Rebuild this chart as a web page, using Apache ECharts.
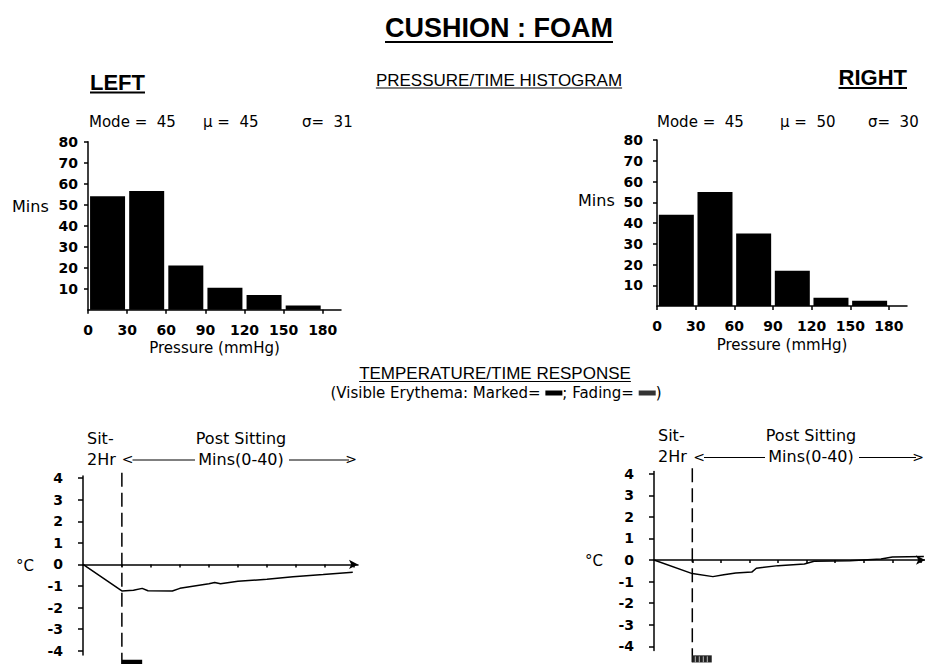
<!DOCTYPE html>
<html>
<head>
<meta charset="utf-8">
<title>Cushion : Foam</title>
<script src="https://cdn.jsdelivr.net/npm/echarts@6/dist/echarts.min.js"></script>
<style>
  html, body { margin: 0; padding: 0; background: #fff; }
  #chart { width: 925px; height: 664px; }
</style>
</head>
<body>
<div id="chart"></div>
<script>
// pressure/time histogram: bin centres (mmHg) and minutes in each bin
const pressureBins = [15, 45, 75, 105, 135, 165]
const leftMins = [54, 56.5, 21, 10.5, 7, 2]
const rightMins = [44, 55, 35, 17, 4, 2.5]
const pressureTicks = [0, 30, 60, 90, 120, 150, 180]
const minsTicks = [10, 20, 30, 40, 50, 60, 70, 80]
const leftStats = ['Mode =  45', 'μ =  45', 'σ=  31']
const rightStats = ['Mode =  45', 'μ =  50', 'σ=  30']

// temperature/time response: [minutes (negative = sitting), °C]
const leftTemp = [
  [-6.7, 0], [0, -1.23], [2, -1.2], [3.5, -1.11], [4.5, -1.22], [8.7, -1.23],
  [10, -1.11], [15, -0.9], [16, -0.84], [17, -0.9], [20, -0.78], [25, -0.69],
  [29.5, -0.57], [34.7, -0.47], [39.8, -0.36]
]
const rightTemp = [
  [-6.7, 0], [0, -0.63], [3.6, -0.77], [5.5, -0.68], [7.6, -0.6], [10.4, -0.56],
  [11.2, -0.38], [15, -0.26], [19.6, -0.18], [21.3, -0.06], [27.6, -0.03],
  [33, 0.05], [35, 0.14], [40.5, 0.16]
]
const timeTicks = [0, 5, 10, 15, 20, 25, 30, 35, 40]
const tempTicks = [-4, -3, -2, -1, 0, 1, 2, 3, 4]

// visible erythema periods, [start, end] post sitting minutes
const leftMarked = [[0, 3.5]]
const rightFading = [[0, 3.4]]

const chart = echarts.init(document.getElementById('chart'), null, { renderer: 'svg' })

const BLACK = '#000'
const SANS = 'DejaVu Sans'
const HEAD = 'Liberation Sans'
const axisLineStyle = { color: BLACK, width: 1.5 }
const numberStyle = { color: BLACK, fontSize: 14, fontWeight: 'bold', fontFamily: SANS }

const measureCtx = document.createElement('canvas').getContext('2d')
function textWidth(text, size, family, weight) {
  measureCtx.font = (weight || 'normal') + ' ' + size + 'px "' + family + '"'
  return measureCtx.measureText(text).width
}

function label(text, x, y, size, align, family, weight) {
  return {
    type: 'text', x: x, y: y, silent: true,
    style: {
      text: text, fill: BLACK, fontSize: size, fontFamily: family || SANS,
      fontWeight: weight || 'normal', textAlign: align || 'left', textVerticalAlign: 'middle'
    }
  }
}

function hline(x1, x2, y, width) {
  return {
    type: 'line', silent: true,
    shape: { x1: x1, y1: y, x2: x2, y2: y },
    style: { stroke: BLACK, lineWidth: width || 1.2 }
  }
}

// underlined heading, like the typed captions of the original sheet
function heading(text, x, y, size, weight, align, lineY) {
  const w = textWidth(text, size, HEAD, weight)
  let x1 = x
  if (align === 'center') x1 = x - w / 2
  if (align === 'right') x1 = x - w
  return [
    label(text, x, y, size, align, HEAD, weight),
    hline(x1, x1 + w, lineY, weight === 'bold' ? 2 : 1.2)
  ]
}

function histXAxis(gridIndex) {
  return {
    gridIndex: gridIndex, type: 'value', min: 0, max: 194,
    name: 'Pressure (mmHg)', nameLocation: 'middle', nameGap: 31,
    nameTextStyle: { color: BLACK, fontSize: 15, fontFamily: SANS },
    axisLine: { onZero: false, lineStyle: axisLineStyle },
    axisTick: { customValues: pressureTicks, length: 4, lineStyle: axisLineStyle },
    axisLabel: Object.assign({ customValues: pressureTicks, margin: 13 }, numberStyle),
    splitLine: { show: false }
  }
}

function histYAxis(gridIndex, margin) {
  return {
    gridIndex: gridIndex, type: 'value', min: 0, max: 80, interval: 10,
    axisLine: { show: true, onZero: false, lineStyle: axisLineStyle },
    axisTick: { show: true, customValues: minsTicks, length: 4, lineStyle: axisLineStyle },
    axisLabel: Object.assign({ customValues: minsTicks, margin: margin }, numberStyle),
    splitLine: { show: false }
  }
}

function tempXAxis(gridIndex) {
  return {
    gridIndex: gridIndex, type: 'value', min: -6.7, max: 40.7,
    axisLine: { onZero: true, symbol: ['none', 'arrow'], symbolSize: [7, 9], lineStyle: axisLineStyle },
    axisTick: { customValues: timeTicks, length: 3, lineStyle: axisLineStyle },
    axisLabel: { show: false },
    splitLine: { show: false }
  }
}

function tempYAxis(gridIndex) {
  return {
    gridIndex: gridIndex, type: 'value', min: -4.2, max: 4.1,
    axisLine: { show: true, onZero: false, lineStyle: axisLineStyle },
    axisTick: { show: true, customValues: tempTicks, length: 5, lineStyle: axisLineStyle },
    axisLabel: Object.assign({ customValues: tempTicks, margin: 20 }, numberStyle),
    splitLine: { show: false }
  }
}

function barSeries(axisIndex, mins) {
  return {
    type: 'bar', xAxisIndex: axisIndex, yAxisIndex: axisIndex,
    data: pressureBins.map((p, i) => [p, mins[i]]),
    barWidth: 35, itemStyle: { color: BLACK }, silent: true
  }
}

function tempSeries(axisIndex, data) {
  return {
    type: 'line', xAxisIndex: axisIndex, yAxisIndex: axisIndex, data: data,
    symbol: 'none', lineStyle: { color: BLACK, width: 1.5 }, silent: true
  }
}

// dashed line at the end of sitting, running past the bottom of the axis
function dashedSeries(axisIndex) {
  return {
    type: 'custom', xAxisIndex: axisIndex, yAxisIndex: axisIndex, data: [[0]], encode: { x: 0 }, silent: true,
    renderItem(params, api) {
      const top = api.coord([api.value(0), 4.25])
      const bottom = api.coord([api.value(0), -5])
      return {
        type: 'line',
        shape: { x1: top[0], y1: top[1], x2: bottom[0], y2: bottom[1] },
        style: { stroke: BLACK, lineWidth: 1.5, lineDash: [14, 6] }
      }
    }
  }
}

// erythema block drawn under the time axis
function erythemaSeries(axisIndex, data, fading) {
  return {
    type: 'custom', xAxisIndex: axisIndex, yAxisIndex: axisIndex, data: data, encode: { x: [0, 1] }, silent: true,
    renderItem(params, api) {
      const a = api.coord([api.value(0), -4.42])
      const b = api.coord([api.value(1), -4.75])
      const w = b[0] - a[0]
      const h = b[1] - a[1]
      const children = [{ type: 'rect', shape: { x: a[0], y: a[1], width: w, height: h }, style: { fill: fading ? '#222' : BLACK } }]
      if (fading) {
        for (let x = a[0] + 3; x < b[0] - 1; x += 4) {
          children.push({ type: 'line', shape: { x1: x, y1: a[1] + 1, x2: x, y2: b[1] }, style: { stroke: '#bbb', lineWidth: 1 } })
        }
      }
      return { type: 'group', children: children }
    }
  }
}

function sitLabels(axisX, dashX, endX, y1, y2, postX) {
  return [
    label('Sit-', axisX + 4, y1, 16),
    label('2Hr', axisX + 4, y2, 16),
    label('Post Sitting', postX, y1, 16, 'center'),
    label('<', dashX + 6, y2, 14, 'center'),
    hline(dashX + 11, postX - 46, y2 + 1, 1),
    label('Mins(0-40)', postX, y2, 16, 'center'),
    hline(postX + 48, endX - 8, y2 + 1, 1),
    label('>', endX, y2, 14, 'right')
  ]
}

const graphics = [].concat(
  heading('CUSHION : FOAM', 499, 28, 27, 'bold', 'center', 42),
  heading('PRESSURE/TIME HISTOGRAM', 499, 80, 17, 'normal', 'center', 88),
  heading('LEFT', 90, 82, 22, 'bold', 'left', 92.5),
  heading('RIGHT', 907, 77, 22, 'bold', 'right', 88),
  heading('TEMPERATURE/TIME RESPONSE', 495, 373, 17, 'normal', 'center', 381.5),
  [
    {
      type: 'text', x: 496, y: 393, silent: true,
      style: {
        text: '(Visible Erythema: Marked= {m|}; Fading= {f|})',
        fill: BLACK, fontSize: 15, fontFamily: SANS, textAlign: 'center', textVerticalAlign: 'middle',
        rich: {
          m: { width: 17, height: 5, backgroundColor: BLACK },
          f: { width: 17, height: 5, backgroundColor: '#333' }
        }
      }
    },
    label(leftStats[0], 89, 121.5, 15),
    label(leftStats[1], 203, 121.5, 15),
    label(leftStats[2], 302, 121.5, 15),
    label(rightStats[0], 657, 121.5, 15),
    label(rightStats[1], 780, 121.5, 15),
    label(rightStats[2], 868, 121.5, 15),
    label('Mins', 12, 206, 16),
    label('Mins', 578, 200, 16),
    label('°C', 16, 566, 15),
    label('°C', 585, 561, 15)
  ],
  sitLabels(83, 121.5, 357, 438, 459, 241),
  sitLabels(654, 693, 924, 435, 456.5, 811)
)

chart.setOption({
  animation: false,
  backgroundColor: '#fff',
  grid: [
    { left: 88, top: 141.7, width: 253, height: 168 },
    { left: 657, top: 140, width: 250, height: 166 },
    { left: 83, top: 476, width: 275, height: 179 },
    { left: 654, top: 471.6, width: 275, height: 179 }
  ],
  xAxis: [histXAxis(0), histXAxis(1), tempXAxis(2), tempXAxis(3)],
  yAxis: [histYAxis(0, 10), histYAxis(1, 14), tempYAxis(2), tempYAxis(3)],
  series: [
    barSeries(0, leftMins),
    barSeries(1, rightMins),
    tempSeries(2, leftTemp),
    tempSeries(3, rightTemp),
    dashedSeries(2),
    dashedSeries(3),
    erythemaSeries(2, leftMarked, false),
    erythemaSeries(3, rightFading, true)
  ],
  graphic: graphics
})
</script>
</body>
</html>
